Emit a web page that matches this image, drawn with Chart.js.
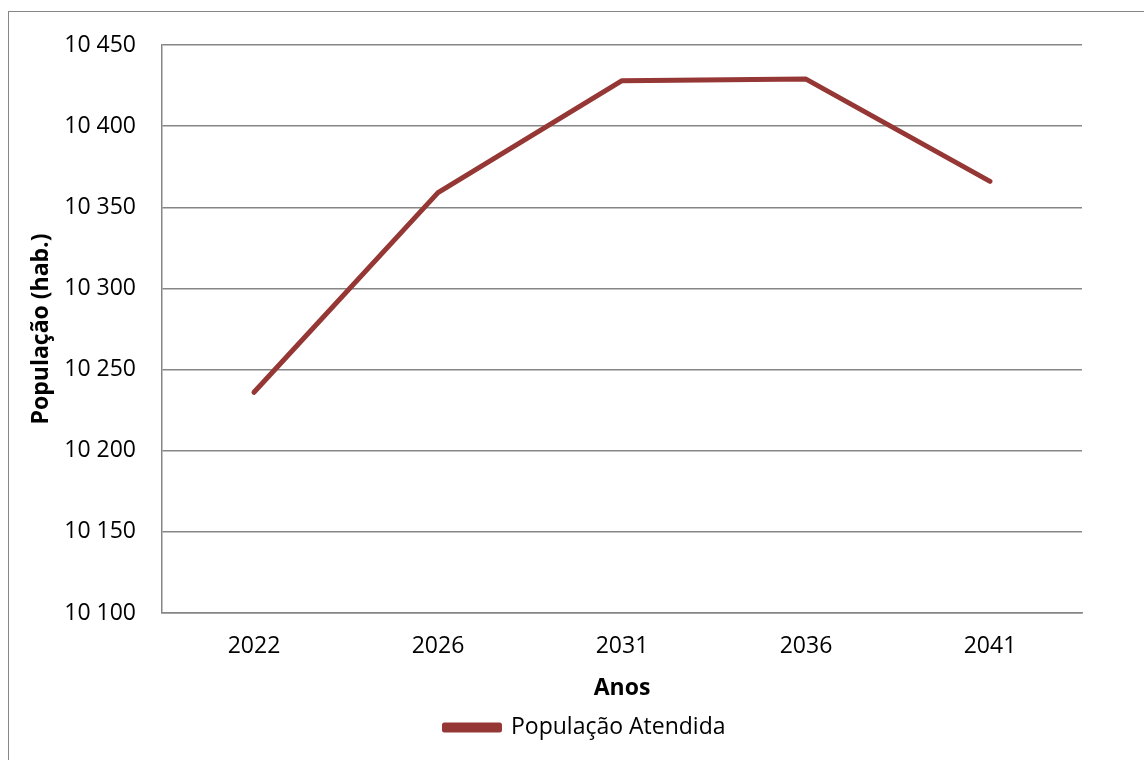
<!DOCTYPE html>
<html>
<head>
<meta charset="utf-8">
<script src="https://cdn.jsdelivr.net/npm/chart.js@4"></script>
<style>
  html, body { margin: 0; padding: 0; background: #fff; }
  #wrap { position: relative; width: 1144px; height: 760px; overflow: hidden; }
  #frame { position: absolute; left: 8px; top: 11px; width: 1200px; height: 800px; border: 1px solid #868686; }
  #chart { position: absolute; left: 0; top: 0; }
</style>
</head>
<body>
<div id="wrap">
  <div id="frame"></div>
  <canvas id="chart" width="1144" height="760"></canvas>
</div>
<script>
const years = ['2022', '2026', '2031', '2036', '2041'];
const populacao = [10236, 10359, 10428, 10429, 10366];
const yMin = 10100;
const yMax = 10450;
const yStep = 50;

const lineColor = '#953735';
const gridColor = '#868686';

Chart.defaults.font = {
  family: '"Open Sans", sans-serif',
  size: 23,
  lineHeight: 1.2,
};
Chart.defaults.color = '#000';

// Excel centres the legend a bit to the right of where Chart.js puts it
const shiftLegend = {
  id: 'shiftLegend',
  afterLayout(chart) {
    chart.legend.left += 44;
    chart.legend.right += 44;
  }
};

const chartConfig = {
  type: 'line',
  data: {
    labels: years,
    datasets: [
      {
        label: 'População Atendida',
        data: populacao,
        borderColor: lineColor,
        backgroundColor: lineColor,
        borderWidth: 5,
        borderCapStyle: 'round',
        borderJoinStyle: 'round',
        pointRadius: 0,
        tension: 0,
        fill: false,
      }
    ],
  },
  options: {
    responsive: false,
    animation: false,
    layout: {
      padding: { left: 0, top: 45, right: 62, bottom: 11 }
    },
    plugins: {
      tooltip: { enabled: false },
      legend: {
        position: 'bottom',
        labels: {
          boxWidth: 55,
          boxHeight: 5,
          padding: 10,
          color: '#000',
        }
      }
    },
    scales: {
      x: {
        offset: true,
        grid: { display: false, drawTicks: false },
        border: { display: true, color: gridColor, width: 1.5 },
        ticks: { padding: 20, color: '#000' },
        title: {
          display: true,
          text: 'Anos',
          font: { weight: 'bold' },
          padding: { top: 4, bottom: 4 },
          color: '#000',
        },
        afterFit: (scale) => { scale.height = 93; }
      },
      y: {
        min: yMin,
        max: yMax,
        ticks: {
          stepSize: yStep,
          padding: 26,
          color: '#000',
          callback: (value) => String(value).replace(/\B(?=(\d{3})+(?!\d))/g, ' ')
        },
        grid: { color: gridColor, lineWidth: 1.5, drawTicks: false },
        border: { display: true, color: gridColor, width: 1.5 },
        title: {
          display: true,
          text: 'População (hab.)',
          font: { weight: 'bold' },
          padding: { top: 28, bottom: 0 },
          color: '#000',
        },
        afterFit: (scale) => { scale.width = 162; }
      }
    }
  },
  plugins: [shiftLegend]
};

new Chart(document.getElementById('chart'), chartConfig);
</script>
</body>
</html>
